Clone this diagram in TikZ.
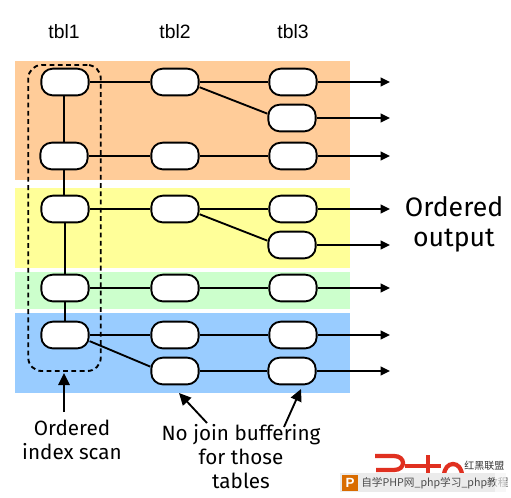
\documentclass[tikz,border=0pt]{standalone}
\usepackage{fontspec}
\setmainfont{Liberation Sans}
\newfontfamily\handfont{Fira Sans}
\newfontfamily\cjkfont{Noto Sans CJK SC}
\usetikzlibrary{arrows.meta}
\definecolor{bandorange}{HTML}{FFCC99}
\definecolor{bandyellow}{HTML}{FFFF99}
\definecolor{bandgreen}{HTML}{CCFFCC}
\definecolor{bandblue}{HTML}{99CCFF}
\definecolor{logored}{HTML}{E03020}
\tikzset{
 x=0.75pt,y=-0.75pt,
 rowbox/.style={draw=black,line width=1.4pt,fill=white,rounded corners=8.5pt,minimum width=35.5pt,minimum height=20pt,inner sep=0pt},
 link/.style={draw=black,line width=1.4pt},
 outarrow/.style={link,-{Triangle[length=7pt,width=6.5pt]}},
 pointer/.style={draw=black,line width=1.4pt,-{Triangle[length=9pt,width=8.5pt]}},
 head/.style={font=\fontsize{14.5}{16}\selectfont},
 hand/.style={font=\handfont\fontsize{15.5}{18}\selectfont,align=center,inner sep=0pt},
 logo/.style={draw=logored,line width=3.2pt}
}
\begin{document}
\begin{tikzpicture}
\useasboundingbox (0,0) rectangle (511,497);
\fill[white] (0,0) rectangle (511,497);
\fill[bandorange] (15,61) rectangle (350,180);
\fill[bandyellow] (15,188) rectangle (350,268);
\fill[bandgreen] (15,272) rectangle (350,309);
\fill[bandblue] (15,313) rectangle (350,393);

\node[head] (h1) at (64,32) {tbl1};
\node[head] (h2) at (175,32) {tbl2};
\node[head] (h3) at (293,32) {tbl3};

\coordinate (ea) at (390,82);
\coordinate (eb) at (390,118);
\coordinate (ec) at (390,156);
\coordinate (ed) at (390,209);
\coordinate (ee) at (390,245);
\coordinate (ef) at (390,288);
\coordinate (eg) at (390,335);
\coordinate (eh) at (390,371);

\node[rowbox] (a1) at (65,82) {};
\node[rowbox] (a2) at (64,156) {};
\node[rowbox] (a3) at (65,209) {};
\node[rowbox] (a4) at (65,288) {};
\node[rowbox] (a5) at (65,335) {};
\node[rowbox] (b1) at (175,82) {};
\node[rowbox] (b2) at (175,156) {};
\node[rowbox] (b3) at (175,209) {};
\node[rowbox] (b4) at (175,288) {};
\node[rowbox] (b5) at (175,335) {};
\node[rowbox] (b6) at (175,371) {};
\node[rowbox] (c1) at (293,82) {};
\node[rowbox] (c2) at (292,118) {};
\node[rowbox] (c3) at (293,156) {};
\node[rowbox] (c4) at (293,209) {};
\node[rowbox] (c5) at (292,245) {};
\node[rowbox] (c6) at (293,288) {};
\node[rowbox] (c7) at (293,335) {};
\node[rowbox] (c8) at (292,371) {};

\draw[link] (a1.south -| a2) -- (a2.north);
\draw[link] (a2.south) -- (a3.north -| a2);
\draw[link] (a3)--(a4);
\draw[link] (a4)--(a5);
\draw[link] (a1)--(b1);
\draw[link] (b1)--(c1);
\draw[link] (b1.-12)--(c2.170);
\draw[link] (a2)--(b2);
\draw[link] (b2)--(c3);
\draw[link] (a3)--(b3);
\draw[link] (b3)--(c4);
\draw[link] (b3.-12)--(c5.170);
\draw[link] (a4)--(b4);
\draw[link] (b4)--(c6);
\draw[link] (a5)--(b5);
\draw[link] (b5)--(c7);
\draw[link] (a5.-14)--(b6.170);
\draw[link] (b6)--(c8);
\draw[outarrow] (c1)--(ea);
\draw[outarrow] (c2)--(eb);
\draw[outarrow] (c3)--(ec);
\draw[outarrow] (c4)--(ed);
\draw[outarrow] (c5)--(ee);
\draw[outarrow] (c6)--(ef);
\draw[outarrow] (c7)--(eg);
\draw[outarrow] (c8)--(eh);

\node[draw=black,line width=1.4pt,dash pattern=on 3.6pt off 2.6pt,rounded corners=10pt,minimum width=54.4pt,minimum height=229.5pt,inner sep=0pt] (scan) at (64.5,218) {};

\node[hand,font=\handfont\fontsize{20}{22.5}\selectfont] (ordered) at (454,224) {Ordered\\output};
\node[hand] (idx) at (72,440) {Ordered\\index scan};
\node[hand] (nojoin) at (241,457) {No join buffering\\for those\\tables};

\coordinate (srcidx) at (64,412);
\coordinate (tipidx) at (64,373);
\draw[pointer] (srcidx)--(tipidx);
\coordinate (tipb) at (179,393);
\coordinate (tipc) at (301,389);
\coordinate (srcb) at (207,423);
\coordinate (srcc) at (284,427);
\draw[pointer] (srcb)--(tipb);
\draw[pointer] (srcc)--(tipc);

% watermark
\draw[logo] (375,456) -- (394,456) .. controls (406,456) and (406,470) .. (394,470) -- (376,470);
\draw[logo] (405,466) -- (441,466);
\draw[logo] (428,455) -- (428,475);
\draw[logo] (444,476) .. controls (444,460) and (462,460) .. (462,476);
\fill[black!8] (340,473) rectangle (506,492);
\fill[orange!85!black] (342,475) rectangle (358,491);
\node[text=white,font=\bfseries\fontsize{10}{12}\selectfont,inner sep=0pt] (wp) at (350,483) {P};
\node[text=black!70,font=\cjkfont\fontsize{8}{10}\selectfont,inner sep=0pt,anchor=west] (wt) at (361,483) {自学PHP网\_php学习\_php教程};
\node[text=black!80,font=\cjkfont\fontsize{7.5}{9}\selectfont,inner sep=0pt,anchor=west] (wl) at (464,466) {红黑联盟};
\fill[white,opacity=.6] (495,473) rectangle (506,492);
\end{tikzpicture}
\end{document}
